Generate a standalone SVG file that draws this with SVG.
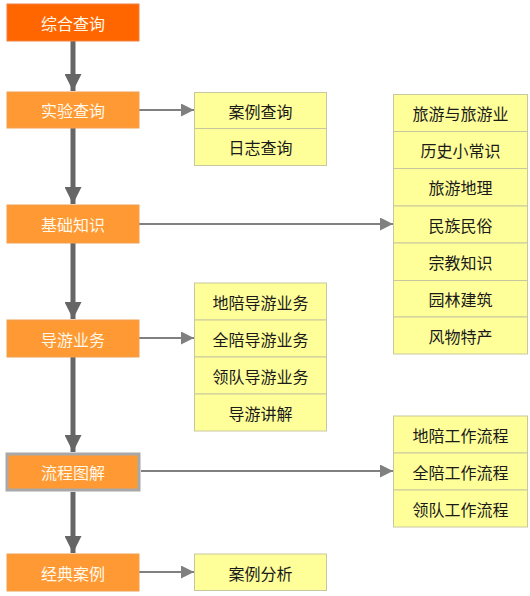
<svg xmlns="http://www.w3.org/2000/svg" width="530" height="596" viewBox="0 0 530 596">
<defs>
<style>
.main{fill:#FF9933;stroke:#F0A050;stroke-width:1}
.top{fill:#FF6600;stroke:#F08040;stroke-width:1}
.sub{fill:#FFFF99;stroke:#C8C8A0;stroke-width:1}
.wt{font-family:"Noto Sans CJK SC",sans-serif;font-size:16px;fill:#FFF8E8;text-anchor:middle;dominant-baseline:central}
.bt{font-family:"Noto Sans CJK SC",sans-serif;font-size:16px;fill:#1A1A1A;text-anchor:middle;dominant-baseline:central}
.v{stroke:#666666;stroke-width:5;fill:none}
.h{stroke:#808080;stroke-width:2;fill:none}
</style>
<marker id="av" viewBox="0 0 10 10" refX="10" refY="5" markerWidth="3.4" markerHeight="3.4" markerUnits="strokeWidth" orient="auto"><path d="M0,0 L10,5 L0,10 z" fill="#666666"/></marker>
<marker id="ah" viewBox="0 0 10 10" refX="10" refY="5" markerWidth="7" markerHeight="6.5" markerUnits="strokeWidth" orient="auto"><path d="M0,0 L10,5 L0,10 z" fill="#808080"/></marker>
</defs>
<rect width="530" height="596" fill="#FFFFFF"/>
<g id="connectors">
<line class="v" x1="73" y1="41" x2="73" y2="91" marker-end="url(#av)"/>
<line class="v" x1="73" y1="128" x2="73" y2="204" marker-end="url(#av)"/>
<line class="v" x1="73" y1="243" x2="73" y2="319" marker-end="url(#av)"/>
<line class="v" x1="73" y1="357" x2="73" y2="452" marker-end="url(#av)"/>
<line class="v" x1="73" y1="492" x2="73" y2="553" marker-end="url(#av)"/>
<line class="h" x1="139" y1="110" x2="194" y2="110" marker-end="url(#ah)"/>
<line class="h" x1="139" y1="224" x2="393" y2="224" marker-end="url(#ah)"/>
<line class="h" x1="139" y1="338" x2="194" y2="338" marker-end="url(#ah)"/>
<line class="h" x1="141" y1="471" x2="393" y2="471" marker-end="url(#ah)"/>
<line class="h" x1="139" y1="572" x2="194" y2="572" marker-end="url(#ah)"/>
</g>
<g id="n-zonghe"><rect class="top" x="7" y="4" width="132" height="37"/><text class="wt" x="73" y="22.5">综合查询</text></g>
<g id="n-shiyan"><rect class="main" x="7" y="92" width="132" height="36"/><text class="wt" x="73" y="110">实验查询</text></g>
<g id="n-jichu"><rect class="main" x="7" y="205" width="132" height="38"/><text class="wt" x="73" y="224">基础知识</text></g>
<g id="n-daoyou"><rect class="main" x="7" y="320" width="132" height="37"/><text class="wt" x="73" y="338.5">导游业务</text></g>
<g id="n-liucheng"><rect x="5.5" y="452.5" width="135" height="39" fill="#A8A8A8"/><rect x="8.5" y="455.5" width="129" height="33" fill="#FF9933"/><text class="wt" x="73" y="472">流程图解</text></g>
<g id="n-jingdian"><rect class="main" x="7" y="554" width="132" height="37"/><text class="wt" x="73" y="572.5">经典案例</text></g>
<g id="g-shiyan">
<rect class="sub" x="194.5" y="92.5" width="132" height="36"/><text class="bt" x="260.5" y="110.5">案例查询</text>
<rect class="sub" x="194.5" y="128.5" width="132" height="37"/><text class="bt" x="260.5" y="147">日志查询</text>
</g>
<g id="g-jichu">
<rect class="sub" x="393.5" y="94.5" width="134" height="37"/><text class="bt" x="460.5" y="113">旅游与旅游业</text>
<rect class="sub" x="393.5" y="131.5" width="134" height="37"/><text class="bt" x="460.5" y="150">历史小常识</text>
<rect class="sub" x="393.5" y="168.5" width="134" height="37.5"/><text class="bt" x="460.5" y="187">旅游地理</text>
<rect class="sub" x="393.5" y="206" width="134" height="37"/><text class="bt" x="460.5" y="224.5">民族民俗</text>
<rect class="sub" x="393.5" y="243" width="134" height="37.5"/><text class="bt" x="460.5" y="261.5">宗教知识</text>
<rect class="sub" x="393.5" y="280.5" width="134" height="36.5"/><text class="bt" x="460.5" y="299">园林建筑</text>
<rect class="sub" x="393.5" y="317" width="134" height="37"/><text class="bt" x="460.5" y="335.5">风物特产</text>
</g>
<g id="g-daoyou">
<rect class="sub" x="194.5" y="283" width="132" height="37"/><text class="bt" x="260.5" y="301.5">地陪导游业务</text>
<rect class="sub" x="194.5" y="320" width="132" height="37"/><text class="bt" x="260.5" y="338.5">全陪导游业务</text>
<rect class="sub" x="194.5" y="357" width="132" height="37"/><text class="bt" x="260.5" y="375.5">领队导游业务</text>
<rect class="sub" x="194.5" y="394" width="132" height="37"/><text class="bt" x="260.5" y="412.5">导游讲解</text>
</g>
<g id="g-liucheng">
<rect class="sub" x="393.5" y="416" width="134" height="37"/><text class="bt" x="460.5" y="434.5">地陪工作流程</text>
<rect class="sub" x="393.5" y="453" width="134" height="37"/><text class="bt" x="460.5" y="471.5">全陪工作流程</text>
<rect class="sub" x="393.5" y="490" width="134" height="37"/><text class="bt" x="460.5" y="508.5">领队工作流程</text>
</g>
<g id="g-jingdian">
<rect class="sub" x="194.5" y="554" width="132" height="36.5"/><text class="bt" x="260.5" y="572.5">案例分析</text>
</g>
</svg>
